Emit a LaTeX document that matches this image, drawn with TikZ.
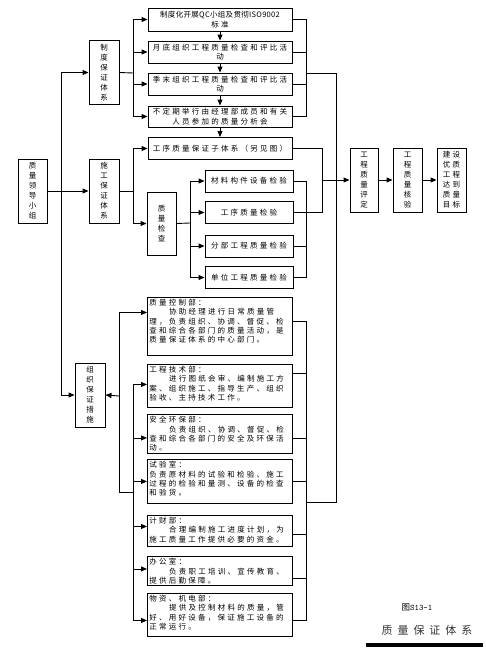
\documentclass[tikz,border=0pt]{standalone}
\usepackage{fontspec}
\setmainfont{Noto Sans CJK SC}
\newfontfamily\cjk[LetterSpace=30]{Noto Sans CJK SC}
\newfontfamily\cjktight[LetterSpace=4]{Noto Sans CJK SC}
\newfontfamily\cjkwide[LetterSpace=45]{Noto Sans CJK SC}
\usetikzlibrary{arrows.meta,positioning,calc}

% text of the department boxes, kept at the top of the box
\newcommand{\depttext}[2]{\begin{minipage}[t][#1][t]{141pt}#2\end{minipage}}
\newcommand{\ind}{\hspace*{19.6pt}}

\begin{document}
\begin{tikzpicture}[
    x=1pt, y=-1pt,
    >={Triangle[length=6pt,width=5pt]},
    line width=0.9pt,
    box/.style={rectangle, draw, inner sep=1pt, align=center,
                font=\cjk\fontsize{7.5}{9.5}\selectfont},
    vbox/.style={box, minimum width=30pt, minimum height=64pt,
                 font=\cjk\fontsize{7.5}{10}\selectfont},
    stepbox/.style={box, minimum width=144pt, minimum height=22pt},
    checkbox/.style={box, minimum width=88pt, minimum height=22pt},
    dept/.style={rectangle, draw, inner sep=2pt, anchor=north west,
                 font=\cjk\fontsize{7.5}{9.2}\selectfont}
]
    \useasboundingbox (0,0) rectangle (486,653);

    % left column
    \node[vbox, minimum width=29pt] (lead) at (32.5,191) {质\\量\\领\\导\\小\\组};
    \node[vbox] (zhidu) at (104,72.5) {制\\度\\保\\证\\体\\系};
    \node[vbox] (shigong) at (104,191) {施\\工\\保\\证\\体\\系};
    \node[vbox] (zuzhi) at (90,395) {组\\织\\保\\证\\措\\施};

    % system steps
    \node[stepbox, minimum height=23pt] (b1) at (220,19.5)
        {{\cjktight 制度化开展QC小组及贯彻ISO9002}\\标准};
    \node[stepbox] (b2) at (220,52) {月底组织工程质量检查和评比活\\动};
    \node[stepbox] (b3) at (220,84) {季末组织工程质量检查和评比活\\动};
    \node[stepbox, minimum height=21pt] (b4) at (220,116.5)
        {不定期举行由经理部成员和有关\\人员参加的质量分析会};
    \node[stepbox] (b5) at (220,148.5) {工序质量保证子体系（另见图）};

    % quality checks
    \node[vbox, minimum width=29pt, minimum height=63pt] (jiancha) at (161.5,223.5) {质\\量\\检\\查};
    \node[checkbox] (c1) at (249,181) {材料构件设备检验};
    \node[checkbox] (c2) at (249,212.5) {工序质量检验};
    \node[checkbox] (c3) at (249,246) {分部工程质量检验};
    \node[checkbox] (c4) at (249,277.5) {单位工程质量检验};

    % result chain
    \node[vbox, minimum width=28pt] (pingding) at (364,180) {工\\程\\质\\量\\评\\定};
    \node[vbox, minimum width=29pt] (heyan) at (407.5,180) {工\\程\\质\\量\\核\\验};
    \node[vbox, minimum width=29pt] (mubiao) at (451.5,180) {建设\\优质\\工程\\达到\\质量\\目标};

    % departments
    \node[dept] (d1) at (147,297) {\depttext{54pt}{质量控制部：\\
        \ind 协助经理进行日常质量管\\
        理，负责组织、协调、督促、检\\
        查和综合各部门的质量活动，是\\
        质量保证体系的中心部门。}};
    \node[dept] (d2) at (147,364) {\depttext{39pt}{工程技术部：\\
        \ind 进行图纸会审、编制施工方\\
        案、组织施工、指导生产、组织\\
        验收、主持技术工作。}};
    \node[dept] (d3) at (147,414) {\depttext{35pt}{安全环保部：\\
        \ind 负责组织、协调、督促、检\\
        查和综合各部门的安全及环保活\\
        动。}};
    \node[dept] (d4) at (147,459) {\depttext{40pt}{试验室：\\
        负责原材料的试验和检验、施工\\
        过程的检验和量测、设备的检查\\
        和验货。}};
    \node[dept] (d5) at (147,515) {\depttext{27pt}{计财部：\\
        \ind 合理编制施工进度计划，为\\
        施工质量工作提供必要的资金。}};
    \node[dept] (d6) at (147,556) {\depttext{25pt}{办公室：\\
        \ind 负责职工培训、宣传教育、\\
        提供后勤保障。}};
    \node[dept] (d7) at (147,593) {\depttext{39pt}{物资、机电部：\\
        \ind 提供及控制材料的质量，管\\
        好、用好设备，保证施工设备的\\
        正常运行。}};

    % junctions
    \coordinate (jL) at (61,191);
    \coordinate (jA) at (133,73);
    \coordinate (jB) at (133,191);
    \coordinate (jC) at (190,223);
    \coordinate (jD) at (119,396);
    \coordinate (jE) at (133,492);
    \coordinate (rA) at (306,73);
    \coordinate (rC) at (336,502);
    \coordinate (rD) at (306,502);
    \coordinate (rE) at (322,180);
    \coordinate (rG) at (306,277.5);

    % arrows out of the leading group
    \draw (lead.east) -- (jL);
    \draw[->] (jL) -- (shigong.west);
    \draw[->] (jL) |- (zhidu.west);
    \draw[->] (jL) |- (zuzhi.west);

    % arrows to the steps
    \draw (zhidu.east) -- (jA);
    \foreach \b in {b1,b2,b3,b4}
        \draw[->] (jA) |- (\b.west);
    \foreach \a/\b in {b1/b2,b2/b3,b3/b4,b4/b5}
        \draw[->] (\a) -- (\b);
    \draw (shigong.east) -- (jB);
    \draw[->] (jB) |- (b5.west);
    \draw[->] (jB) |- (jiancha.west);
    \draw (jiancha.east) -- (jC);
    \foreach \c in {c1,c2,c3,c4}
        \draw[->] (jC) |- (\c.west);

    % arrows to the departments
    \draw[->] (jD) -- (zuzhi.east);
    \draw[->] (jD) |- ([yshift=14pt]d1.west);
    \draw (jD) |- (jE);
    \draw[->] (jE) |- ([yshift=1.5pt]d2.west);
    \draw[->] (jE) |- ([yshift=-4pt]d3.west);
    \draw[->] (jE) |- (d4.west);
    \draw[->] (jE) |- ([yshift=4.5pt]d5.west);
    \draw[->] (jE) |- ([yshift=2pt]d6.west);
    \draw[->] (jE) |- ([yshift=-5.5pt]d7.west);

    % lines on the right
    \foreach \b in {b1,b2,b3,b4}
        \draw (\b.east) -| (rA);
    \draw (rA) -| (rC) -- (rD);
    \draw ([yshift=5pt]d1.east) -| (rD);
    \draw ([yshift=12.5pt]d2.east) -| (rD);
    \draw ([yshift=-4pt]d3.east) -| (rD);
    \draw (d4.east) -| (rD);
    \draw ([yshift=-3.5pt]d5.east) -| (rD);
    \draw ([yshift=-7pt]d6.east) -| (rD);
    \draw ([yshift=-5.5pt]d7.east) -| (rD);
    \draw (b5.east) -| (rE);
    \draw (c2.east) -| (rE);
    \draw (c1.east) -| (rG);
    \draw (c3.east) -- (c3.east -| rG);
    \draw (c4.east) -- (rG);
    \draw[->] (rE) -- (pingding.west);
    \draw[->] (pingding) -- (heyan);
    \draw[->] (heyan) -- (mubiao);

    % caption
    \node[font=\fontsize{8.5}{10}\selectfont] (fignum) at (417,607) {图\texttt{S13-1}};
    \node[font=\cjkwide\fontsize{11}{12}\selectfont, text=black!80] (title) at (427,630) {质量保证体系};
    \fill (366,643) rectangle (483,647);
\end{tikzpicture}
\end{document}
